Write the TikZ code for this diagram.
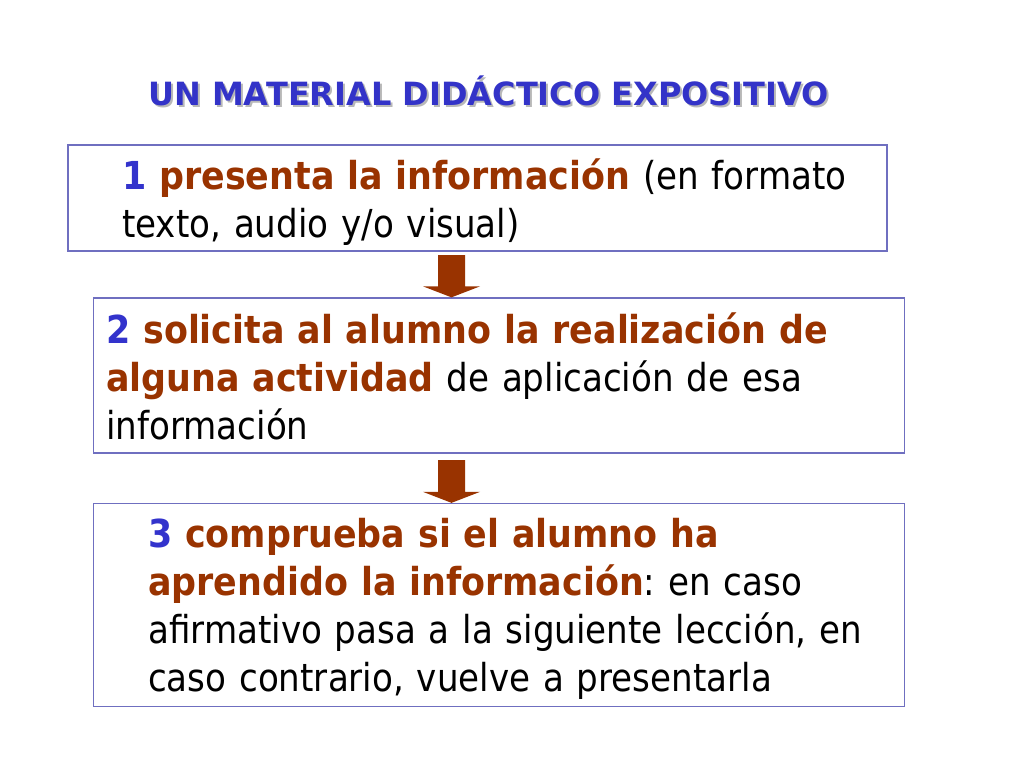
\documentclass[tikz,border=0pt]{standalone}
\usepackage{fontspec}
\setmainfont{DejaVu Sans}[FakeStretch=0.886,BoldFeatures={FakeStretch=0.906}]
\newfontfamily\titlefont{DejaVu Sans}[FakeStretch=1.0,BoldFeatures={FakeStretch=1.0}]
\usetikzlibrary{calc}
\definecolor{numblue}{HTML}{3333CC}
\definecolor{brownred}{HTML}{993300}
\definecolor{boxline}{HTML}{6F6FC0}
\definecolor{titleblue}{HTML}{3333C8}
\newcommand{\bodyfont}{\fontsize{38.5}{48}\selectfont\frenchspacing}
\newcommand{\nb}[1]{\textcolor{numblue}{\textbf{#1}}}
\newcommand{\hl}[1]{\textcolor{brownred}{\textbf{#1}}}
\begin{document}
\begin{tikzpicture}[x=1pt,y=-1pt,
  box/.style={draw=boxline,line width=1.3pt,fill=white,inner sep=0pt,rectangle},
  txt/.style={font=\bodyfont,inner sep=0pt,anchor=north west,text width=860pt,align=left},
  ttl/.style={font=\titlefont\fontsize{32}{36}\selectfont\bfseries,inner sep=0pt,anchor=base west},
  arr/.style={fill=brownred}]
\useasboundingbox[fill=white] (0,0) rectangle (1024,768);
% title
\node[ttl,text=black!28] (tshadow) at (150,107) {UN MATERIAL DIDÁCTICO EXPOSITIVO};
\node[ttl,text=titleblue] (title) at (148,105) {UN MATERIAL DIDÁCTICO EXPOSITIVO};
% boxes
\node[box,minimum width=819pt,minimum height=106pt] (b1) at (477.5,198) {};
\node[box,minimum width=811pt,minimum height=155pt] (b2) at (499,375.5) {};
\node[box,minimum width=811pt,minimum height=203pt] (b3) at (499,605) {};
% texts
\node[txt] (t1) at (122,{189-33.6}) {\strut\nb{1} \hl{presenta la información} (en formato\\texto, audio y/o visual)};
\node[txt] (t2) at (106,{343-33.6}) {\strut\nb{2} \hl{solicita al alumno la realización de}\\\hl{alguna actividad} de aplicación de esa\\información};
\node[txt] (t3) at (148,{547-33.6}) {\strut\nb{3} \hl{comprueba si el alumno ha}\\\hl{aprendido la información}: en caso\\afirmativo pasa a la siguiente lección, en\\caso contrario, vuelve a presentarla};
% arrows
\coordinate (a1) at (451.5,255);
\coordinate (a2) at (451.5,460);
\fill[arr] ($(a1)+(-13.5,0)$) -- ($(a1)+(13.5,0)$) -- ($(a1 |- b2.north)+(13.5,-11)$) -- ($(a1 |- b2.north)+(28.5,-11)$) -- (a1 |- b2.north) -- ($(a1 |- b2.north)+(-28.5,-11)$) -- ($(a1 |- b2.north)+(-13.5,-11)$) -- cycle;
\fill[arr] ($(a2)+(-13.5,0)$) -- ($(a2)+(13.5,0)$) -- ($(a2 |- b3.north)+(13.5,-11)$) -- ($(a2 |- b3.north)+(28.5,-11)$) -- (a2 |- b3.north) -- ($(a2 |- b3.north)+(-28.5,-11)$) -- ($(a2 |- b3.north)+(-13.5,-11)$) -- cycle;
\end{tikzpicture}
\end{document}
